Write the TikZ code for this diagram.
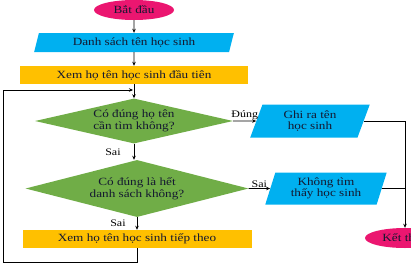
\documentclass[tikz,border=0pt]{standalone}
\usepackage{fontspec}
\setmainfont{Liberation Serif}[FakeStretch=1.2]
\usepackage{xcolor}
\usepackage{tikz}
\definecolor{rose}{HTML}{EB1670}
\definecolor{sky}{HTML}{00B0F0}
\definecolor{gold}{HTML}{FFC000}
\definecolor{leaf}{HTML}{70AD47}
\definecolor{ink}{HTML}{141830}
\usetikzlibrary{arrows.meta,positioning,shapes.geometric}

\begin{document}
\begin{tikzpicture}[x=1pt,y=-1pt,
  font=\fontsize{11}{11.5}\selectfont,text=ink,
  term/.style={ellipse,fill=rose,minimum width=80pt,minimum height=20pt,inner sep=0pt},
  io/.style={trapezium,trapezium left angle=72,trapezium right angle=108,
             trapezium stretches=true,fill=sky,align=center,inner sep=0pt},
  proc/.style={rectangle,fill=gold,minimum height=18pt,inner sep=0pt},
  dec/.style={diamond,fill=leaf,align=center,inner sep=0pt},
  arr/.style={-{Stealth[length=4pt,width=3.5pt]},draw=black,line width=0.7pt},
  lbl/.style={font=\fontsize{10}{11}\selectfont,text=black,inner sep=1pt}]
  \useasboundingbox (0,0) rectangle (411,265);
  \clip (0,0) rectangle (411,265);
  \node[term] (start) at (134,10) {Bắt đầu};
  \node[io,minimum width=200pt,minimum height=19pt] (list) at (134,42.5) {Danh sách tên học sinh};
  \node[proc,minimum width=228pt] (first) at (134,75) {Xem họ tên học sinh đầu tiên};
  \node[dec,minimum width=198pt,minimum height=45pt,shape aspect=4.4] (q1) at (134,121)
    {Có đúng họ tên\\cần tìm không?};
  \node[dec,minimum width=223pt,minimum height=57pt,shape aspect=3.9] (q2) at (137,188.5)
    {Có đúng là hết\\danh sách không?};
  \node[proc,minimum width=229pt] (next) at (137,239) {Xem họ tên học sinh tiếp theo};
  \node[io,minimum width=120pt,minimum height=33pt] (show) at (310,121) {Ghi ra tên\\học sinh};
  \node[io,minimum width=122pt,minimum height=32pt] (none) at (326,188.5) {Không tìm\\thấy học sinh};
  \node[term] (end) at (405,238) {Kết thúc};
  \coordinate (back) at (3,90);
  \draw[arr](start)--(list);\draw[arr](list)--(first);\draw[arr](first)--(q1);
  \draw[arr](q1.south)--node[lbl,left=12pt]{Sai}(q1.south |- q2.north);
  \draw[arr](q1)--node[lbl,above]{Đúng}(show);
  \draw[arr](q2)--node[lbl,above]{Sai}(none);
  \draw[arr](q2.south)--node[lbl,left=10pt]{Sai}(next);
  \draw[arr](show)-|(end);
  \draw[line width=0.7pt](none)--(none -| end);
  \draw[arr,shorten >=1pt](next.south)--++(0,14)-|(back)--(back -| first.south);
\end{tikzpicture}
\end{document}
